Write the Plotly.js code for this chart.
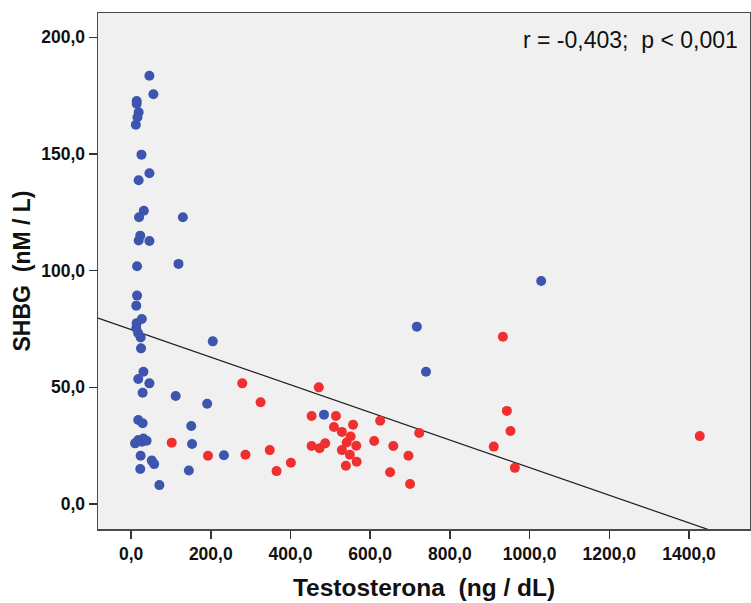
<!DOCTYPE html>
<html>
<head>
<meta charset="utf-8">
<script src="https://cdn.plot.ly/plotly-3.0.1.min.js"></script>
<style>html,body{margin:0;padding:0;background:#fff;}#chart{width:751px;height:603px;}</style>
</head>
<body>
<div id="chart"></div>
<script>
// Group 1 (blue)
const blueX = [46,56,14,14,19,16,12,26,46,19,
  32,20,130,23,19,46,15,119,15,13,
  27,14,13,18,24,25,205,31,18,46,29,112,191,
  18,29,151,153,18,27,31,39,10,24,52,58,23,71,145,233,
  484,717,740,1029];
const blueY = [183.5,175.6,172.7,171.5,167.9,165.7,162.5,149.7,141.7,138.7,
  125.7,122.9,122.9,115,112.9,112.7,101.9,102.9,89.3,85,
  79.3,77.5,75.3,73.2,71.4,66.7,69.7,56.7,53.6,51.7,47.7,46.3,43,
  36,34.6,33.4,25.7,27.4,26.7,28.1,27.1,26,20.7,18.6,17.1,15,8.1,14.4,20.9,
  38.3,76,56.7,95.6];
// Group 2 (red)
const redX = [102,193,279,287,325,348,365,401,453,453,471,473,487,509,514,529,529,539,541,549,551,557,565,566,
  610,625,650,658,696,700,723,910,933,943,952,963,1427];
const redY = [26.3,20.7,51.7,21.1,43.6,23.1,14.1,17.7,37.7,24.9,50,23.9,26,33,37.7,30.9,23.1,16.4,26.4,21.1,28.9,34,25,18.1,
  27,35.7,13.6,24.9,20.7,8.6,30.4,24.6,71.7,39.9,31.3,15.5,29.1];
// Linear fit (intercept, slope)
const fitCoef = [74.8, -0.0592];
const xTickVals = [0,200,400,600,800,1000,1200,1400];
const xTickText = ["0,0","200,0","400,0","600,0","800,0","1000,0","1200,0","1400,0"];
const yTickVals = [0,50,100,150,200];
const yTickText = ["0,0","50,0","100,0","150,0","200,0"];
const statText = "r = -0,403;\u00a0 p < 0,001";

const xRange = [-83, 1553];
const yRange = [-10.7, 210.4];
const fitX = xRange.slice();
const fitY = fitX.map(x => fitCoef[0] + fitCoef[1]*x);

const fontFam = '"Liberation Sans", Arial, sans-serif';
const traces = [
  {x: fitX, y: fitY, type:'scatter', mode:'lines', line:{color:'#1a1a1a', width:1.2}, hoverinfo:'skip', showlegend:false},
  {x: blueX, y: blueY, type:'scatter', mode:'markers', marker:{color:'#3d55ae', size:10}, showlegend:false},
  {x: redX, y: redY, type:'scatter', mode:'markers', marker:{color:'#ef2f30', size:10}, showlegend:false}
];
const axisCommon = {showgrid:false, zeroline:false, showline:true, linecolor:'#4a4a4a', linewidth:1.5,
  mirror:true, ticks:'outside', ticklen:8, tickwidth:1.5, tickcolor:'#333',
  tickfont:{family:fontFam, size:17.5, color:'#111', weight:'bold'}};
const layout = {
  width:751, height:603,
  margin:{l:98, r:1, t:13, b:74},
  paper_bgcolor:'#ffffff', plot_bgcolor:'#f0f0f0',
  xaxis: Object.assign({}, axisCommon, {range:xRange, tickvals:xTickVals, ticktext:xTickText,
    title:{text:'Testosterona\u00a0 (ng / dL)', standoff:16, font:{family:fontFam, size:24.5, color:'#111', weight:'bold'}}}),
  yaxis: Object.assign({}, axisCommon, {range:yRange, tickvals:yTickVals, ticktext:yTickText,
    title:{text:'SHBG\u00a0 (nM / L)', standoff:4, font:{family:fontFam, size:23, color:'#111', weight:'bold'}}}),
  annotations:[{xref:'paper', yref:'paper', x:0.985, y:0.948, xanchor:'right', yanchor:'middle', showarrow:false,
    text: statText, font:{family:fontFam, size:23, color:'#111'}}]
};
Plotly.newPlot('chart', traces, layout, {displayModeBar:false, staticPlot:true});
</script>
</body>
</html>
